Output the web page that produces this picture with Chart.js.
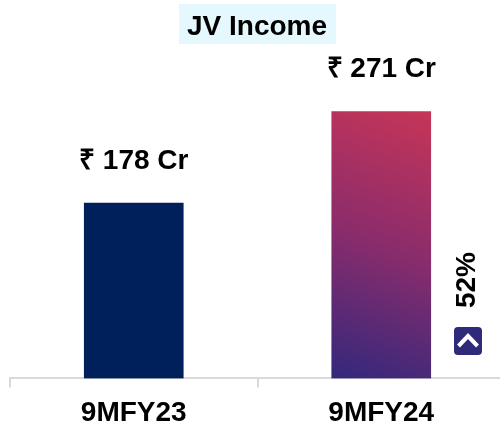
<!DOCTYPE html>
<html>
<head>
<meta charset="utf-8">
<style>
  html, body { margin: 0; padding: 0; background: #fff; width: 500px; height: 425px; overflow: hidden; }
  #wrap { position: absolute; left: 0; top: 0; width: 520px; height: 440px; }
</style>
<script src="https://cdn.jsdelivr.net/npm/chart.js@4"></script>
</head>
<body>
<div id="wrap"><canvas id="jvChart" width="520" height="440"></canvas></div>
<script>
const categories = ["9MFY23", "9MFY24"];
const jvIncome = [178, 271];
const valueLabels = ["₹ 178 Cr", "₹ 271 Cr"];
const chartTitle = "JV Income";
const growthLabel = "52%";

const FONT = '"Liberation Sans", Arial, sans-serif';

// Second bar runs from deep indigo (bottom left) to crimson (top right)
const barColor = (context) => {
    const chart = context.chart;
    if (context.dataIndex === 0) return "#00205c";
    if (!chart.chartArea) return "#c4345a";
    const x = chart.scales.x.getPixelForValue(1);
    const top = chart.scales.y.getPixelForValue(jvIncome[1]);
    const bottom = chart.scales.y.getPixelForValue(0);
    const g = chart.ctx.createLinearGradient(x - 50, bottom, x + 50, top);
    g.addColorStop(0, "#33287c");
    g.addColorStop(0.5, "#8a2c6c");
    g.addColorStop(1, "#c63558");
    return g;
};

const annotations = {
    id: "annotations",
    afterDraw(chart) {
        const ctx = chart.ctx;
        ctx.save();

        // title with pale box
        ctx.fillStyle = "#e5f8fe";
        ctx.fillRect(179, 4, 157, 40);
        ctx.fillStyle = "#000";
        ctx.font = "bold 28px " + FONT;
        ctx.textAlign = "center";
        ctx.textBaseline = "middle";
        ctx.fillText(chartTitle, 257, 27);

        // value labels above the bars
        ctx.font = "bold 28px " + FONT;
        const bars = chart.getDatasetMeta(0).data;
        bars.forEach((bar, i) => {
            ctx.fillText(valueLabels[i], bar.x, bar.y - 42);
        });

        // growth note, rotated
        ctx.save();
        ctx.translate(467, 280);
        ctx.rotate(-Math.PI / 2);
        ctx.font = "bold 28px " + FONT;
        ctx.fillText(growthLabel, 0, 0);
        ctx.restore();

        // chevron badge
        ctx.fillStyle = "#2f2a7a";
        ctx.beginPath();
        ctx.roundRect(454, 327, 28, 28, 4);
        ctx.fill();
        ctx.strokeStyle = "#fff";
        ctx.lineWidth = 4;
        ctx.beginPath();
        ctx.moveTo(458.5, 346);
        ctx.lineTo(468, 336);
        ctx.lineTo(477.5, 346);
        ctx.stroke();

        ctx.restore();
    },
};

new Chart(document.getElementById("jvChart"), {
    type: "bar",
    data: {
        labels: categories,
        datasets: [
            {
                data: jvIncome,
                backgroundColor: barColor,
                borderWidth: 0,
                barThickness: 99,
            },
        ],
    },
    options: {
        responsive: false,
        animation: false,
        layout: {
            padding: { left: 10, right: 15, top: 83, bottom: 1 },
        },
        plugins: {
            legend: { display: false },
            tooltip: { enabled: false },
        },
        scales: {
            x: {
                grid: {
                    color: "#d9d9d9",
                    lineWidth: 2,
                    drawOnChartArea: false,
                    tickLength: 9,
                },
                border: { color: "#d9d9d9", width: 2 },
                ticks: {
                    color: "#000",
                    font: { family: FONT, size: 28, weight: "bold" },
                    padding: 9,
                    maxRotation: 0,
                },
            },
            y: {
                display: false,
                min: 0,
                max: 300,
            },
        },
    },
    plugins: [annotations],
});
</script>
</body>
</html>
